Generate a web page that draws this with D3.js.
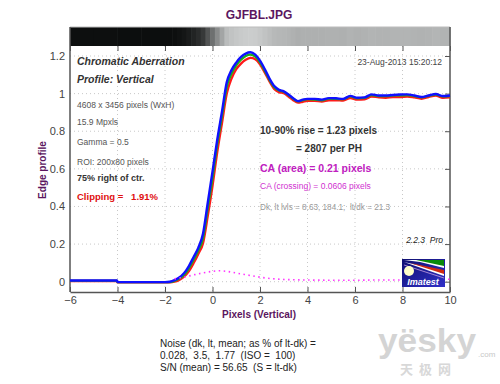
<!DOCTYPE html>
<html><head><meta charset="utf-8">
<script src="https://cdn.jsdelivr.net/npm/d3@7"></script>
<style>
html,body{margin:0;padding:0;background:#fff;}
svg{display:block;font-family:"Liberation Sans",Arial,sans-serif;}
svg text{white-space:pre;}
</style></head>
<body>
<svg id="c" width="500" height="384"></svg>
<script>
// ---------- data ----------
const xTicks = [-6,-4,-2,0,2,4,6,8,10];
const yTicks = [0,0.2,0.4,0.6,0.8,1,1.2];
const profileX = [-6,-4.02,-4,-2,-1.8,-1.6,-1.4,-1.2,-1.0,-0.8,-0.6,-0.4,-0.2,0,0.2,0.4,0.6,0.8,1.0,1.2,1.4,1.6,1.8,2.0,2.2,2.4,2.6,2.8,3.0,3.2,3.4,3.6,3.8,4.0,4.3,4.6,4.9,5.2,5.5,5.8,6.1,6.4,6.7,7.0,7.3,7.6,7.9,8.2,8.5,8.8,9.1,9.4,9.7,10];
const blueY = [0.006,0.006,-0.002,-0.002,0.0,0.008,0.022,0.045,0.082,0.13,0.18,0.255,0.42,0.585,0.755,0.905,1.06,1.125,1.165,1.195,1.213,1.22,1.207,1.175,1.13,1.08,1.04,1.02,1.012,0.995,0.975,0.96,0.968,0.972,0.972,0.968,0.976,0.975,0.972,0.988,0.978,0.98,0.996,0.99,0.99,0.993,0.995,0.996,0.99,0.982,0.99,0.998,0.987,0.99];
const greenY = [0.005,0.005,-0.002,-0.002,-0.002,0.004,0.016,0.036,0.07,0.115,0.165,0.23,0.39,0.55,0.73,0.88,1.035,1.105,1.15,1.18,1.2,1.207,1.196,1.166,1.122,1.073,1.034,1.016,1.01,0.992,0.972,0.958,0.965,0.97,0.968,0.964,0.973,0.972,0.97,0.985,0.975,0.977,0.992,0.987,0.986,0.99,0.99,0.992,0.987,0.98,0.988,0.995,0.985,0.987];
const redY = [0.004,0.004,-0.003,-0.003,-0.003,0.0,0.01,0.027,0.055,0.098,0.148,0.205,0.35,0.51,0.69,0.845,1.0,1.08,1.13,1.16,1.18,1.19,1.183,1.156,1.113,1.065,1.025,1.008,1.002,0.985,0.965,0.952,0.957,0.962,0.962,0.958,0.965,0.965,0.963,0.977,0.968,0.97,0.985,0.98,0.978,0.982,0.982,0.985,0.98,0.973,0.982,0.99,0.978,0.98];
const caX = [-1.6,-1.2,-0.8,-0.4,0,0.3,0.6,1.0,1.5,2.0,2.5,3.0,4.0,5.0,6.0,7.0,8.0,9.0,10];
const caY = [0.015,0.024,0.036,0.047,0.055,0.058,0.055,0.046,0.035,0.024,0.016,0.012,0.009,0.008,0.008,0.009,0.009,0.011,0.013];
const title = "GJFBL.JPG";
const leftInfo = [
  {t:"Chromatic Aberration", cls:"bi"},
  {t:"Profile: Vertical", cls:"bi"},
  {t:"4608 x 3456 pixels (WxH)", cls:"r"},
  {t:"15.9 Mpxls", cls:"r"},
  {t:"Gamma = 0.5", cls:"r"},
  {t:"ROI: 200x80 pixels", cls:"r"},
  {t:"75% right of ctr.", cls:"b"},
  {t:"Clipping =   1.91%", cls:"red"}
];
const noiseLines = ["Noise (dk, lt, mean; as % of lt-dk) =","0.028,  3.5,  1.77  (ISO =  100)","S/N (mean) = 56.65  (S = lt-dk)"];

// ---------- layout ----------
const svg = d3.select("#c");
const L=70, R=450, T=27, B=292, barB=46;
const x = d3.scaleLinear().domain([-6,10]).range([L,R]);
const y = d3.scaleLinear().domain([0,1.2]).range([281.7,56]);
const gray = d3.scaleLinear().domain([0,1,1.22]).range([12,179,203]).clamp(true);

// gray edge bar
const barG = svg.append("g");
profileX.forEach((px,i)=>{
  const x0 = i===0 ? -6 : (profileX[i-1]+px)/2;
  const x1 = i===profileX.length-1 ? 10 : (profileX[i+1]+px)/2;
  const g = Math.round(gray(blueY[i]));
  barG.append("rect").attr("x",x(x0)).attr("y",T).attr("width",Math.max(0,x(x1)-x(x0))+0.6).attr("height",barB-T)
    .attr("fill",`rgb(${g},${g+2},${g+2})`);
});

// grid
const grid = svg.append("g").attr("stroke","#c8c8c8").attr("stroke-dasharray","1,3").attr("stroke-width",1);
xTicks.slice(1,-1).forEach(t=>grid.append("line").attr("x1",x(t)).attr("x2",x(t)).attr("y1",barB).attr("y2",B));
yTicks.forEach(t=>grid.append("line").attr("x1",L).attr("x2",R).attr("y1",y(t)).attr("y2",y(t)));

// frame
svg.append("line").attr("x1",L).attr("x2",R).attr("y1",T).attr("y2",T).attr("stroke","#bbb");
svg.append("line").attr("x1",L).attr("x2",L).attr("y1",T).attr("y2",B).attr("stroke","#555").attr("stroke-width",1.5);
svg.append("line").attr("x1",R).attr("x2",R).attr("y1",T).attr("y2",B).attr("stroke","#555").attr("stroke-width",1.5);

// axes
const xAxis = svg.append("g").attr("transform",`translate(0,${B})`)
  .call(d3.axisBottom(x).tickValues(xTicks).tickFormat(d3.format("d")).tickSizeInner(-5).tickSizeOuter(0).tickPadding(4));
const yAxis = svg.append("g").attr("transform",`translate(${L},0)`)
  .call(d3.axisLeft(y).tickValues(yTicks).tickFormat(d=>d===0?"0":d===1?"1":String(d)).tickSizeInner(0).tickSizeOuter(0).tickPadding(5));
const yAxisR = svg.append("g").attr("transform",`translate(${R},0)`)
  .call(d3.axisRight(y).tickValues(yTicks).tickFormat("").tickSizeInner(-5).tickSizeOuter(0));
const xAxisT = svg.append("g").attr("transform",`translate(0,${barB})`)
  .call(d3.axisTop(x).tickValues(xTicks).tickFormat("").tickSizeInner(-5).tickSizeOuter(0));
[xAxis,yAxis,yAxisR,xAxisT].forEach(a=>{
  a.selectAll(".domain").attr("stroke","#555").attr("stroke-width",1.5);
  a.selectAll(".tick line").attr("stroke","#555");
  a.selectAll("text").attr("fill","#444").attr("font-size",11).attr("font-family","Liberation Sans, Arial, sans-serif");
});
yAxisR.select(".domain").remove();
xAxisT.select(".domain").remove();
yAxis.select(".domain").remove();

// curves
const line = (ys)=>d3.line().x((d,i)=>x(profileX[i])).y(d=>y(d)).curve(d3.curveMonotoneX)(ys);
svg.append("path").attr("d",line(redY)).attr("fill","none").attr("stroke","#ff1a1a").attr("stroke-width",2.4);
svg.append("path").attr("d",line(greenY)).attr("fill","none").attr("stroke","#1ab01a").attr("stroke-width",2.2);
svg.append("path").attr("d",line(blueY)).attr("fill","none").attr("stroke","#1010ff").attr("stroke-width",2.4);
svg.append("path").attr("d",d3.line().x((d,i)=>x(caX[i])).y(d=>y(d)).curve(d3.curveMonotoneX)(caY))
  .attr("fill","none").attr("stroke","#ff33ff").attr("stroke-width",1.6).attr("stroke-dasharray","1.5,3.5");

// title & axis labels
svg.append("text").attr("x",259).attr("y",19).attr("text-anchor","middle").attr("font-size",12).attr("font-weight","bold").attr("fill","#5b1660").text(title);
svg.append("text").attr("x",259).attr("y",318).attr("text-anchor","middle").attr("font-size",10).attr("font-weight","bold").attr("fill","#5b1660").text("Pixels (Vertical)");
svg.append("text").attr("transform","translate(46,170) rotate(-90)").attr("text-anchor","middle").attr("font-size",10).attr("font-weight","bold").attr("fill","#5b1660").text("Edge profile");

// left info block
const infoY = [65,83,108,125,145,165,181,200];
leftInfo.forEach((d,i)=>{
  const t = svg.append("text").attr("x",77).attr("y",infoY[i]).text(d.t);
  if(d.cls==="bi") t.attr("font-size",10.5).attr("font-weight","bold").attr("font-style","italic").attr("fill","#333");
  else if(d.cls==="r") t.attr("font-size",8.5).attr("fill","#555");
  else if(d.cls==="b") t.attr("font-size",9).attr("font-weight","bold").attr("fill","#333");
  else t.attr("font-size",9.5).attr("font-weight","bold").attr("fill","#e01010");
});

// right info
svg.append("text").attr("x",442).attr("y",65).attr("text-anchor","end").attr("font-size",8.5).attr("fill","#444").text("23-Aug-2013 15:20:12");
svg.append("text").attr("x",260).attr("y",134).attr("font-size",10).attr("font-weight","bold").attr("fill","#333").text("10-90% rise = 1.23 pixels");
svg.append("text").attr("x",296).attr("y",152).attr("font-size",10).attr("font-weight","bold").attr("fill","#333").text("= 2807 per PH");
svg.append("text").attr("x",260).attr("y",172).attr("font-size",10.5).attr("font-weight","bold").attr("fill","#c020c0").text("CA (area) = 0.21 pixels");
svg.append("text").attr("x",260).attr("y",189).attr("font-size",8.5).attr("fill","#d030d0").text("CA (crossing) = 0.0606 pixels");
svg.append("text").attr("x",260).attr("y",210).attr("font-size",8.2).attr("fill","#999").text("Dk, lt lvls = 8.63, 184.1;  lt/dk = 21.3");
svg.append("text").attr("x",443).attr("y",243).attr("text-anchor","end").attr("font-size",8.5).attr("font-style","italic").attr("fill","#222").text("2.2.3  Pro");

// Imatest logo
const logo = svg.append("g");
const grad = svg.append("defs").append("linearGradient").attr("id","lg").attr("x1","0").attr("x2","1").attr("y1","0").attr("y2","1");
grad.append("stop").attr("offset","0").attr("stop-color","#101070");
grad.append("stop").attr("offset","1").attr("stop-color","#3030c8");
logo.append("rect").attr("x",402).attr("y",259).attr("width",43).attr("height",28).attr("fill","url(#lg)");
logo.append("polygon").attr("points","404,260 444,260 444,268 420,262").attr("fill","#fff");
logo.append("polygon").attr("points","416,260 444,260 444,266").attr("fill","#0a8a0a");
logo.append("polygon").attr("points","404,262 444,271 444,276").attr("fill","#fff");
logo.append("polygon").attr("points","410,263 444,270 444,274").attr("fill","#d02a10");
logo.append("line").attr("x1",404).attr("y1",265).attr("x2",444).attr("y2",278).attr("stroke","#c8a0e0").attr("stroke-width",0.8);
logo.append("circle").attr("cx",409).attr("cy",271).attr("r",5).attr("fill","#ffffc8");
logo.append("text").attr("x",423).attr("y",285).attr("text-anchor","middle").attr("font-size",9).attr("font-weight","bold").attr("font-style","italic").attr("fill","#fff").text("Imatest");

// noise text
noiseLines.forEach((t,i)=>{
  svg.append("text").attr("x",160).attr("y",347+i*12).attr("font-size",10).attr("fill","#222").text(t);
});

// watermark
svg.append("text").attr("x",378).attr("y",352).attr("font-size",34).attr("font-weight","bold").attr("fill","#d4d4d4")
  .attr("textLength",98).attr("lengthAdjust","spacingAndGlyphs").text("yësky");
svg.append("text").attr("x",478).attr("y",357).attr("font-size",8).attr("fill","#c8c8c8").text(".com");
svg.append("text").attr("x",400).attr("y",374).attr("font-size",13).attr("font-weight","bold").attr("fill","#d8d8d8").attr("font-family","Noto Sans CJK SC").attr("letter-spacing",6).text("天极网");
</script>
</body></html>
